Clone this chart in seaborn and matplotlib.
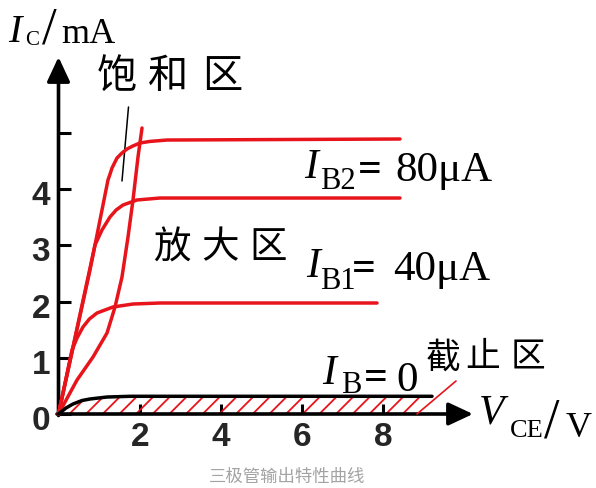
import numpy as np
import pandas as pd
import matplotlib
matplotlib.use("Agg")
import matplotlib.pyplot as plt
import matplotlib.transforms as mtransforms
import seaborn as sns

# ---------------- data ----------------
v_ib2 = [0, 0.776, 1.219, 1.27, 1.318, 1.441, 1.565, 1.687, 1.835, 2.007, 2.25, 2.672, 8.411]
i_ib2 = [0, 2.562, 4.164, 4.27, 4.377, 4.555, 4.645, 4.715, 4.77, 4.822, 4.85, 4.875, 4.893]

v_mid = [0, 0.899, 1.071, 1.268, 1.42, 1.589, 1.933, 2.500, 8.411]
i_mid = [0, 3.007, 3.274, 3.505, 3.63, 3.719, 3.808, 3.843, 3.843]

v_ib1 = [0, 0.333, 0.456, 0.603, 0.76, 0.948, 1.342, 1.835, 2.500, 7.845]
i_ib1 = [0, 1.139, 1.352, 1.548, 1.69, 1.797, 1.904, 1.957, 1.975, 1.975]

v_sat = [0, 0.456, 0.850, 1.195, 1.392, 1.564, 1.712, 1.835, 1.958, 2.057]
i_sat = [0, 0.605, 1.014, 1.441, 1.904, 2.438, 3.149, 3.808, 4.573, 5.089]

v_ib0 = [0, 0.185, 0.357, 0.579, 0.776, 1.195, 1.761, 8.9, 9.2]
i_ib0 = [0, 0.107, 0.178, 0.240, 0.267, 0.302, 0.315, 0.315, 0.315]

x_ticks = [2, 4, 6, 8]
x_ticklabels = ["2", "4", "6", "8"]
y_ticks = [0, 1, 2, 3, 4, 5]
y_ticklabels = ["0", "1", "2", "3", "4", ""]

RED = "#e8141c"

frames = []
for name, v, i in [("IB2", v_ib2, i_ib2), ("IBmid", v_mid, i_mid),
                   ("IB1", v_ib1, i_ib1), ("sat", v_sat, i_sat),
                   ("IB0", v_ib0, i_ib0)]:
    frames.append(pd.DataFrame({"V": v, "I": i, "curve": name}))
df = pd.concat(frames, ignore_index=True)

# ---------------- figure ----------------
sns.set_style("white")
plt.rcParams["font.family"] = ["Liberation Sans", "DejaVu Sans"]
plt.rcParams["hatch.linewidth"] = 1.3

W, H = 596, 488
fig = plt.figure(figsize=(W / 100, H / 100), dpi=100)

X0, Y0 = 58.5, 414.0          # pixel of origin
SX, SY = 40.6, 56.2           # pixels per unit
ax_left, ax_top, ax_right = X0, 50.0, 480.0
ax = fig.add_axes([ax_left / W, (H - Y0) / H, (ax_right - ax_left) / W, (Y0 - ax_top) / H])
ax.set_xlim(0, (ax_right - X0) / SX)
ax.set_ylim(0, (Y0 - ax_top) / SY)
ax.patch.set_alpha(0)
for s in ax.spines.values():
    s.set_visible(False)

# hatched cut-off region
sub0 = df[(df.curve == "IB0") & (df.V <= 8.9)]
ax.fill_between(sub0.V, 0, sub0.I, facecolor="none", edgecolor=RED,
                hatch="//", linewidth=0, zorder=1)

palette = {"IB2": RED, "IBmid": RED, "IB1": RED, "sat": RED, "IB0": "black"}
sns.lineplot(data=df, x="V", y="I", hue="curve", units="curve", estimator=None,
             sort=False, palette=palette, linewidth=2.5, legend=False, ax=ax,
             zorder=4, clip_on=False)
for ln in ax.get_lines():
    ln.set_solid_joinstyle("round")
    ln.set_solid_capstyle("round")
ax.set_xlabel("")
ax.set_ylabel("")

# ticks
ax.set_xticks(x_ticks)
ax.set_xticklabels(x_ticklabels)
ax.set_yticks(y_ticks)
ax.set_yticklabels(y_ticklabels)
ax.tick_params(axis="y", direction="in", length=8.6, width=2.2, color="black",
               pad=6, labelsize=24, left=True)
ax.tick_params(axis="x", direction="in", length=7.2, width=2.2, color="black",
               pad=6, labelsize=24, bottom=True)
for lab in ax.get_xticklabels() + ax.get_yticklabels():
    lab.set_fontweight("bold")
    lab.set_fontfamily(["Liberation Sans", "DejaVu Sans"])
off = mtransforms.ScaledTranslation(0, -4 / 100, fig.dpi_scale_trans)
for lab in ax.get_yticklabels():
    lab.set_transform(lab.get_transform() + off)

# axis arrows (figure pixels, origin bottom-left)
def fp(x, y):
    return (x, H - y)

arr = dict(arrowstyle="-|>,head_length=0.75,head_width=0.35", lw=2.6,
           color="black", mutation_scale=20, shrinkA=0, shrinkB=0)
ax.annotate("", xy=fp(X0, 57), xytext=fp(X0, Y0 + 1.5), xycoords="figure pixels",
            textcoords="figure pixels", arrowprops=arr, zorder=3)
ax.annotate("", xy=fp(473, Y0), xytext=fp(X0 - 1.5, Y0), xycoords="figure pixels",
            textcoords="figure pixels", arrowprops=arr, zorder=3)

# leader lines
ax.annotate("", xy=fp(122, 181), xytext=fp(128.5, 107), xycoords="figure pixels",
            textcoords="figure pixels",
            arrowprops=dict(arrowstyle="-", lw=1.1, color="black", shrinkA=0, shrinkB=0))
ax.annotate("", xy=fp(417, Y0), xytext=fp(456, 381), xycoords="figure pixels",
            textcoords="figure pixels",
            arrowprops=dict(arrowstyle="-", lw=1.2, color=RED, shrinkA=0, shrinkB=0))

# ---------------- texts ----------------
SERIF = ["Liberation Serif", "DejaVu Serif"]
CJK = ["Noto Sans CJK SC", "DejaVu Sans"]

def T(x, y, s, size, family=SERIF, style="normal", weight="normal",
      ha="left", va="baseline", color="black"):
    fig.text(x / W, 1 - y / H, s, fontsize=size, family=family, style=style,
             weight=weight, ha=ha, va=va, color=color)

# I_C / mA
T(8, 42, "I", 29, style="italic")
T(25, 45, "C", 15)
T(42, 44, "/", 38)
T(61, 43, "mA", 26)

# V_CE / V
T(479, 423, "V", 30, style="italic")
T(510, 437, "CE", 19)
T(544, 438, "/", 40)
T(566, 437, "V", 26)

# I_B2 = 80 μA
T(304, 178, "I", 30, style="italic")
T(320, 189, "B2", 22)
T(358, 181, "=", 30, weight="bold")
T(395, 181, "80μA", 31)

# I_B1 = 40 μA
T(306, 277, "I", 30, style="italic")
T(320, 289, "B1", 22)
T(352, 280, "=", 30, weight="bold")
T(393, 280, "40μA", 31)

# I_B = 0
T(322, 384, "I", 30, style="italic")
T(341, 393, "B", 22)
T(364, 389, "=", 30, weight="bold")
T(396, 391, "0", 31)

# region names
for cx, ch in zip([117, 168, 222], "饱和区"):
    T(cx, 76, ch, 29, family=CJK, weight="light", ha="center", va="center")
for cx, ch in zip([172, 220, 268], "放大区"):
    T(cx, 248, ch, 27, family=CJK, weight="light", ha="center", va="center")
for cx, ch in zip([443, 483, 528], "截止区"):
    T(cx, 358, ch, 25, family=CJK, weight="light", ha="center", va="center")

# caption
T(287, 477, "三极管输出特性曲线", 12.5, family=CJK, ha="center", va="center",
  color="#a3a3a3")

fig.savefig("out.png", dpi=100)
